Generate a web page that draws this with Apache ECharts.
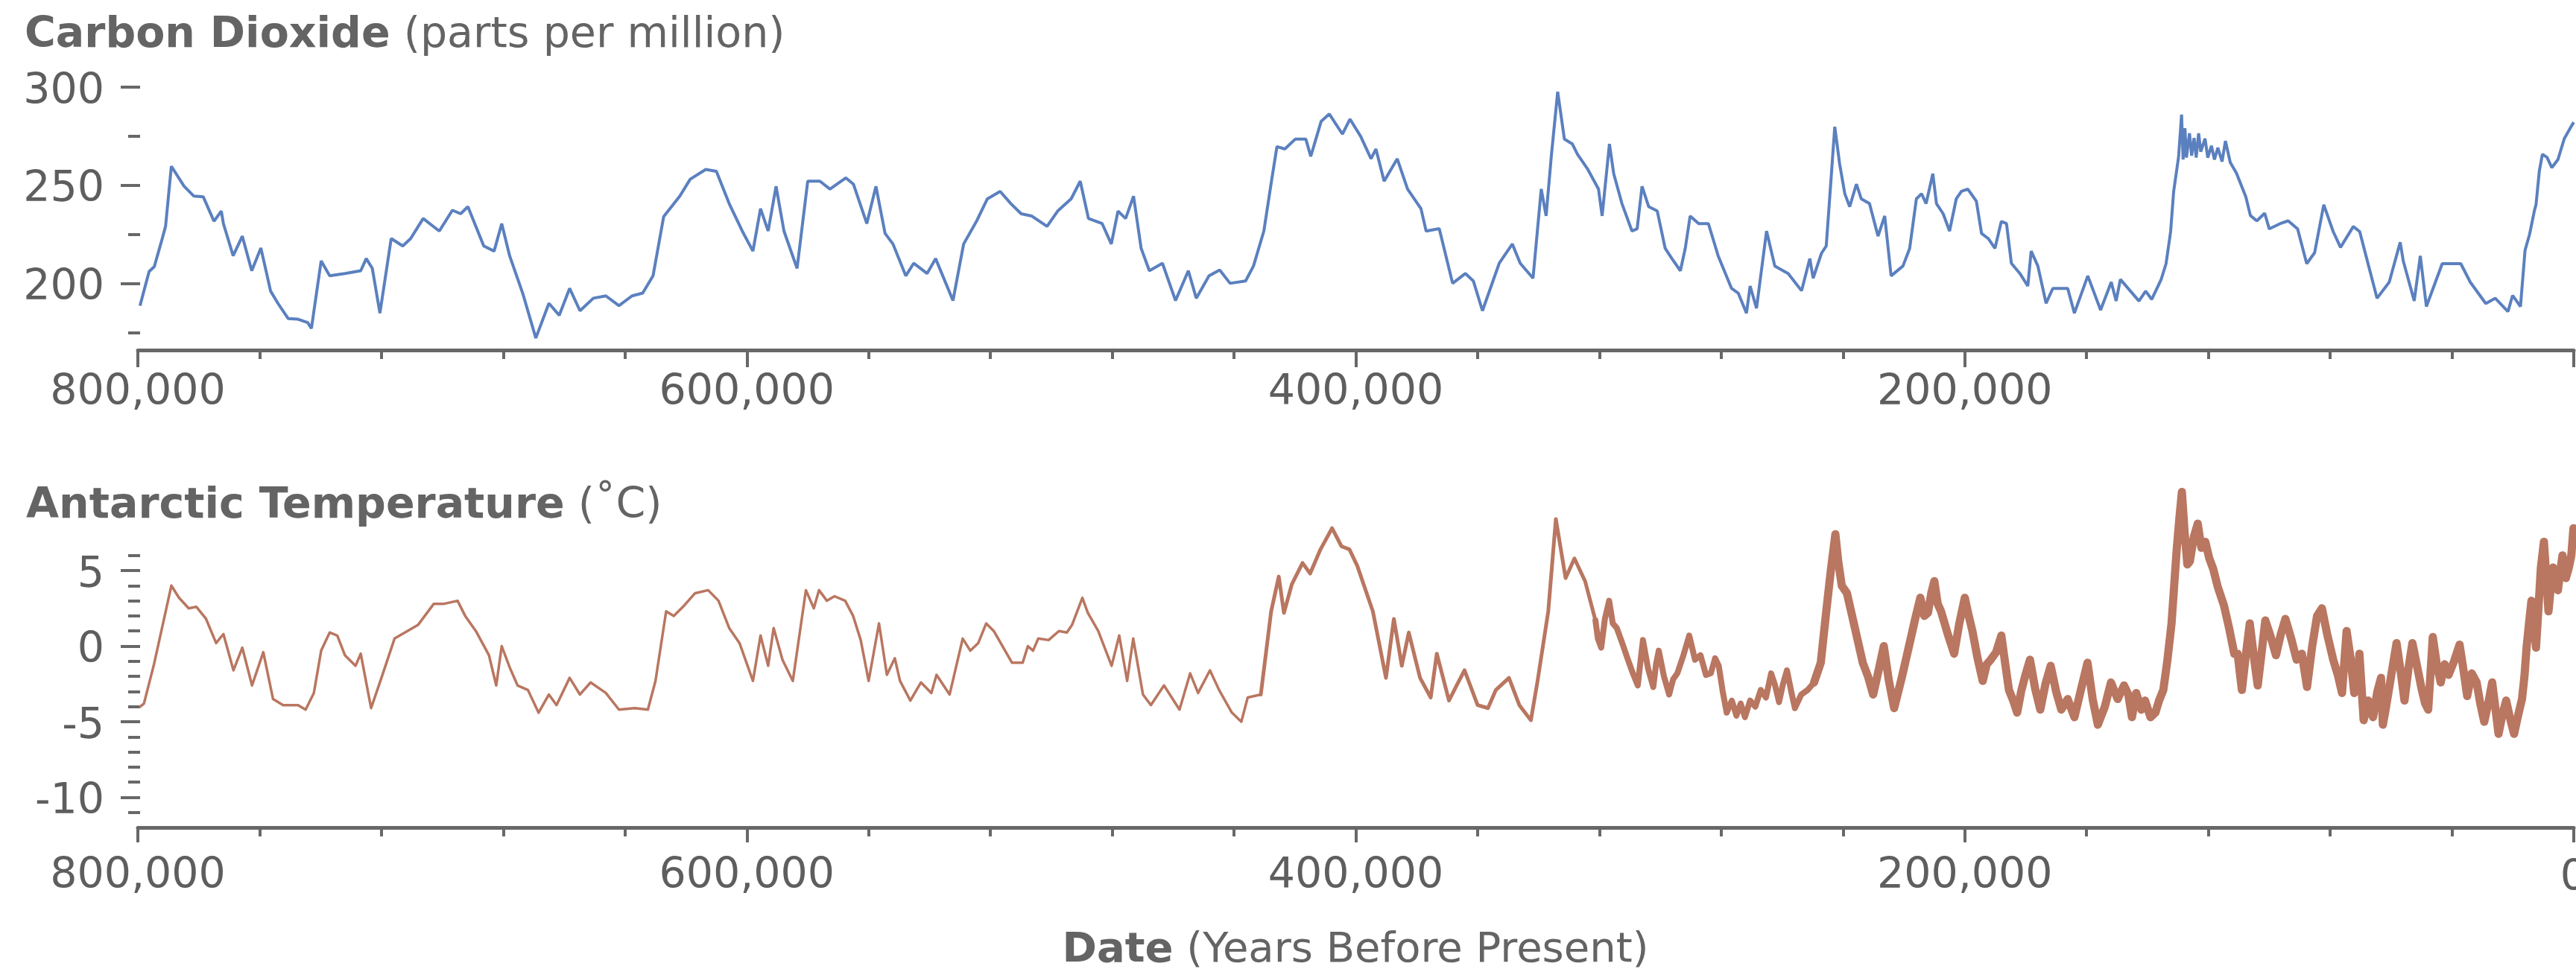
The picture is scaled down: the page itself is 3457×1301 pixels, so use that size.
<!DOCTYPE html>
<html>
<head>
<meta charset="utf-8">
<script src="https://cdn.jsdelivr.net/npm/echarts@6/dist/echarts.min.js"></script>
<style>
html,body{margin:0;padding:0;background:#fff;}
#chart{width:3457px;height:1301px;}
</style>
</head>
<body>
<div id="chart"></div>
<script>
// ---- DATA (years before present in thousands, value) ----
const co2Data = [
[799.3,188.6],[796.3,206],[794.6,208.5],[792.2,221.6],[790.9,229],[789.0,259.6],[784.8,249.4],[781.6,244.4],[778.5,244],[775.0,231.6],
[772.6,236.8],[771.9,230.4],[768.7,214],[765.7,224],[762.6,206.4],[759.6,218],[756.4,196],[754.0,189.8],[750.6,182],[747.4,181.7],
[744.2,180],[743.0,177],[739.8,211.4],[737.0,203.8],[732.0,205],[726.8,206.4],[725.0,212.6],[723.0,207.6],[720.5,184.8],[716.8,222.8],
[713.0,219],[710.4,222.8],[706.3,233],[701.0,226.6],[696.7,237.2],[694.0,235.4],[691.6,239],[686.4,219],[683.0,216.4],[680.5,230.4],
[677.9,214],[673.6,194.9],[669.3,172.1],[665.0,189.8],[661.6,183.7],[658.2,197.4],[654.8,186],[650.4,192.4],[646.3,193.6],[642.0,188.6],
[637.7,193.6],[634.2,195],[630.8,203.8],[627.3,234],[622.0,244.4],[618.6,253],[613.5,258],[610.0,257],[605.8,240.6],[601.5,226.6],
[598.0,216.4],[595.5,238],[593.0,226.6],[590.4,249.4],[587.8,226.6],[583.5,207.6],[580.0,252],[576.0,252],[572.7,248],[567.5,253.7],
[565.0,250.5],[560.6,230.4],[557.6,249.4],[554.6,225.4],[552.0,220],[547.8,203.8],[545.2,210.2],[540.8,205],[538.0,212.6],[532.3,191.2],
[528.8,220],[524.6,231.5],[521.0,243],[516.8,246.8],[513.3,240.6],[509.9,235.4],[506.5,234.3],[501.4,229],[497.9,236.8],[493.5,243],
[490.5,252],[487.8,233],[483.3,230.4],[480.3,220],[478.1,236.8],[475.6,233],[473.0,244.4],[470.5,217.8],[467.8,206.4],[463.5,210.2],
[459.2,191.2],[455.0,206.4],[452.4,192.4],[448.2,203.8],[444.7,206.8],[441.3,200],[436.2,201.2],[433.6,208.8],[430.2,226.6],[427.6,253],
[425.9,269.6],[423.3,268.4],[419.9,273.4],[416.4,273.4],[414.8,264.6],[411.4,282.4],[408.7,286.2],[404.4,276],[401.9,283.6],[398.4,274.8],
[395.0,263.4],[393.4,268.4],[390.7,252],[386.4,263.4],[383.0,248],[378.6,238],[376.9,226.6],[372.6,227.8],[368.2,200],[364.0,205],
[361.4,201.2],[358.4,186],[352.9,210.2],[348.6,220],[346.0,210.2],[341.8,202.6],[339.1,248],[337.5,234.3],[335.8,264.6],[333.7,297.5],
[331.5,273.4],[328.9,271],[327.2,265.7],[323.8,258],[320.3,248],[319.1,234.3],[316.7,271],[315.3,255.8],[312.6,240.6],[309.3,226.6],
[307.6,227.8],[306.0,249.4],[303.8,239],[301.0,236.8],[298.4,217.8],[296.2,212.6],[293.4,206.4],[291.8,217.8],[290.2,234.3],[287.4,230.4],
[284.2,230.4],[281.0,214],[276.6,197.4],[274.4,195],[271.7,184.8],[270.5,198.6],[268.4,187.3],[265.1,226.6],[262.4,208.8],[258.0,205],
[253.6,196.2],[250.9,212.6],[249.8,202.6],[247.1,215.2],[245.5,219],[243.8,255.8],[242.7,279.7],[241.1,260.8],[239.4,245.6],[237.8,239],
[235.6,250.5],[234.0,243],[231.3,240.6],[228.5,224],[226.3,234.3],[224.2,203.8],[220.3,208.8],[218.1,217.8],[215.9,243],[214.2,245.6],
[212.7,240.6],[210.5,255.8],[209.3,240.6],[207.1,235.4],[205.0,226.6],[202.8,243],[201.1,246.8],[199.0,248],[196.2,241.8],[194.5,225.4],
[192.3,222.8],[190.1,217.8],[188.0,231.5],[186.3,230.4],[184.7,210.2],[181.9,205],[179.3,198.6],[178.2,216.4],[176.0,208.8],[173.3,189.8],
[171.1,197.4],[166.2,197.4],[164.0,184.8],[159.6,203.8],[155.4,186.4],[151.9,200.6],[150.3,191],[148.9,202],[142.8,191],[140.6,196],
[138.6,191.8],[135.5,202],[133.9,210],[132.4,226.3],[131.4,246.8],[129.8,264.2],[128.8,285.9],[128.3,263],[127.7,279],[127.2,264],
[126.2,276.4],[125.5,265],[124.7,274],[124.0,264],[123.2,276.4],[122.5,267],[121.1,273.7],[120.2,264],[119.0,270],[118.0,263],
[116.9,269],[115.5,262],[114.4,272.5],[112.8,261.5],[110.8,256.2],[107.7,244],[106.2,234.5],[104.1,231.8],[101.5,235.7],[100.0,227.7],
[96.4,230.4],[93.8,231.8],[90.7,227.7],[87.7,210],[85.1,215.6],[82.1,240],[79.0,226.3],[76.6,218.3],[72.4,228.9],[70.3,226.3],
[64.6,192.4],[60.6,200.6],[57.0,220.9],[56.0,211.4],[52.4,191],[50.4,214],[48.4,188.2],[43.2,210],[37.1,210],[34.0,200.6],
[28.9,189.7],[25.8,192.4],[21.6,185.6],[20.1,193.8],[17.5,188.2],[16.0,216.8],[14.5,225],[12.9,237.2],[12.4,240],[11.3,257.3],
[10.3,265.7],[8.8,264.2],[7.2,258.9],[5.2,263],[3.1,273.7],[0.6,280.5],[0.0,282]
];

const tempData = [
[799.2,-4.0],[798,-3.8],[794.7,-1.2],[791.4,1.8],[789,4.0],[786.5,3.2],[783.3,2.5],[780.8,2.6],[777.6,1.8],[774.3,0.2],
[771.9,0.8],[768.6,-1.6],[765.7,-0.1],[762.5,-2.6],[758.8,-0.4],[755.6,-3.5],[752.3,-3.9],[747.4,-3.9],[744.9,-4.2],[742.2,-3.1],
[739.8,-0.3],[737,0.9],[734.5,0.7],[732,-0.6],[728.5,-1.3],[726.8,-0.5],[723.4,-4.1],[720,-2.1],[715.7,0.5],[712.3,0.9],
[708,1.4],[702.8,2.8],[699.4,2.8],[695,3.0],[692.5,2.0],[689,1.0],[684.7,-0.6],[682.3,-2.6],[680.5,0.0],[677.9,-1.4],
[675.3,-2.6],[671.9,-2.9],[668.4,-4.4],[665,-3.2],[662.5,-3.9],[658.2,-2.1],[654.8,-3.2],[651.3,-2.4],[646.3,-3.1],[642,-4.2],
[636.8,-4.1],[632.5,-4.2],[630,-2.3],[626.5,2.3],[624,2.0],[620.5,2.7],[617,3.5],[612.7,3.7],[609.3,3.0],[605.8,1.2],
[602.4,0.2],[598,-2.3],[595.5,0.7],[593,-1.3],[591.2,1.2],[588.3,-0.9],[584.9,-2.3],[580.6,3.7],[578,2.5],[576.3,3.7],
[573.7,3.0],[571.2,3.3],[567.7,3.0],[565.1,2.0],[562.6,0.4],[560,-2.3],[556.6,1.5],[554,-1.9],[551.4,-0.8],[549.7,-2.3],
[546.3,-3.6],[542.8,-2.4],[539.4,-3.1],[537.7,-1.9],[533.4,-3.2],[529.1,0.5],[526.6,-0.3],[524,0.2],[521.4,1.5],[518.9,1.0],
[512.9,-1.1],[509.4,-1.1],[507.7,0.0],[506,-0.3],[504.3,0.5],[500.9,0.4],[497.5,1.0],[494.9,0.9],[493.2,1.4],[489.8,3.2],
[488,2.2],[484.6,1.0],[480.2,-1.3],[477.7,0.7],[475.1,-2.3],[473.1,0.5],[469.9,-3.2],[467.3,-3.9],[463,-2.6],[457.9,-4.2],
[454.4,-1.8],[451.8,-3.1],[447.9,-1.6],[444.9,-2.9],[440.7,-4.4],[437.6,-5.0],[435.5,-3.4],[431.2,-3.2],[427.8,2.3],[425.3,4.6],
[423.6,2.2],[421,4.1],[417.5,5.5],[415,4.8],[411.6,6.4],[407.8,7.8],[404.7,6.6],[402.1,6.4],[399.5,5.3],[394.4,2.3],
[390.1,-2.1],[387.5,1.8],[384.9,-1.3],[382.6,0.9],[378.9,-2.1],[375.4,-3.4],[373.4,-0.5],[369.4,-3.6],[366.9,-2.6],[364.3,-1.6],
[360,-3.9],[356.6,-4.1],[354,-2.9],[349.7,-2.1],[346.3,-3.9],[342.5,-4.9],[340.3,-2.3],[336.8,2.3],[334.3,8.4],[331.1,4.5],
[328.2,5.8],[324.7,4.3],[321.3,1.7],[320.5,0.5],[319.4,-0.1],[318.2,1.8],[316.8,3.0],[315.6,1.5],[314.3,1.2],[312.5,0.2],
[310.8,-0.8],[309,-1.8],[307.4,-2.6],[306.5,-1.0],[305.7,0.4],[304,-1.5],[302.3,-2.7],[301.4,-1.2],[300.5,-0.3],[298.8,-2.0],
[297.1,-3.2],[295.8,-2.2],[294.4,-1.8],[292.4,-0.6],[290.5,0.7],[288.6,-0.9],[286.8,-0.6],[285,-1.9],[283.4,-1.8],[282,-0.8],
[280.8,-1.3],[279.5,-3.0],[278.2,-4.4],[276.5,-3.6],[275,-4.6],[273.6,-3.8],[272.2,-4.7],[270.5,-3.6],[268.8,-4.0],[267,-2.9],
[265.3,-3.4],[263.6,-1.8],[262.3,-2.6],[261,-3.7],[259.7,-2.5],[258.4,-1.6],[257,-3.0],[255.8,-4.1],[253.7,-3.2],[251.6,-2.9],
[249.5,-2.4],[247.3,-1.1],[245.5,2.3],[244,5.0],[242.5,7.4],[241.5,5.5],[240.4,4.0],[238.7,3.5],[237,2.0],[235.3,0.5],
[233.5,-1.1],[231.8,-2.0],[230.1,-3.2],[228.3,-1.6],[226.6,0.0],[225,-2.2],[223.2,-4.1],[220.6,-2.0],[218.1,0.2],[216.3,1.8],
[214.6,3.2],[213.3,2.0],[212.1,2.2],[211,3.5],[210,4.3],[208.9,2.8],[207.8,2.3],[205.6,0.8],[203.5,-0.5],[201.8,1.5],
[200,3.2],[198.7,2.0],[197.5,1.0],[195.8,-0.8],[194.1,-2.3],[192.8,-1.2],[191.5,-0.9],[189.7,-0.4],[188,0.7],[186.7,-1.2],
[185.5,-2.9],[184.1,-3.6],[182.8,-4.4],[181.5,-3.0],[180.2,-2.0],[178.6,-0.9],[176.9,-2.8],[175.2,-4.2],[173.5,-2.5],[171.8,-1.3],
[170,-3.0],[168.3,-4.2],[166.2,-3.5],[164,-4.7],[162,-3.0],[159.7,-1.1],[158,-3.5],[156.3,-5.2],[154,-4.0],[152,-2.4],
[149.8,-3.5],[147.7,-2.6],[146.3,-3.2],[145.1,-4.7],[143.7,-3.1],[142,-4.2],[140.8,-3.6],[139,-4.7],[137.4,-4.4],[136.2,-3.6],
[134.8,-2.9],[133.5,-1.0],[132.1,1.5],[131.3,3.8],[130.4,6.4],[129.5,8.5],[128.7,10.2],[127.8,7.5],[126.9,5.4],[126.1,5.6],
[124.8,7.2],[123.5,8.1],[122.3,6.5],[121,6.9],[119.7,5.8],[118.4,5.1],[116.9,3.9],[114.9,2.7],[113.2,1.2],[111.5,-0.5],
[110.4,-0.5],[109,-2.9],[107.7,-0.6],[106.4,1.5],[105,-0.8],[103.8,-2.6],[102.5,-0.4],[101.3,1.7],[99.5,0.6],[97.8,-0.6],
[96.2,0.8],[94.7,1.8],[92.8,0.5],[91,-0.9],[89.3,-0.5],[87.6,-2.7],[85.9,0.0],[84.3,2.0],[82.7,2.5],[81,0.8],
[79,-0.9],[77.5,-1.9],[76.1,-3.1],[74.6,1.0],[73.3,-0.8],[72.1,-3.1],[71.2,-2.4],[70.4,-0.5],[69,-4.9],[67.5,-3.6],
[66.9,-4.2],[65.9,-4.7],[64.5,-3.0],[63.3,-2.1],[62.7,-5.2],[61.8,-4.2],[60,-2.0],[58.2,0.2],[56.9,-1.6],[55.6,-3.6],
[54.3,-1.5],[53,0.2],[51.4,-1.4],[49.9,-2.9],[48.8,-3.8],[47.8,-4.2],[46.3,0.6],[45,-1.2],[43.7,-2.4],[42.4,-1.2],
[41.1,-1.9],[39.3,-1.0],[37.5,0.1],[36.2,-1.6],[35,-3.3],[33.5,-1.8],[31.9,-2.4],[30.7,-3.8],[29.4,-5.0],[28.1,-3.8],
[26.8,-2.4],[25.8,-4.0],[24.7,-5.8],[23.4,-4.5],[22.2,-3.6],[20.9,-4.8],[19.6,-5.8],[18.3,-4.6],[17,-3.5],[16.2,-2.0],
[15.5,-0.1],[14.7,1.5],[13.9,3.0],[13.1,1.5],[12.4,-0.1],[11.6,2.5],[10.8,5.2],[9.8,6.9],[9,4.5],[8.3,2.3],
[7.5,4.0],[6.8,5.2],[6,4.2],[5.2,3.7],[4.4,5.0],[3.7,6.0],[2.6,4.5],[1.6,5.2],[0.8,6.0],[0.1,7.8]
];

const xTickValues = [800000, 600000, 400000, 200000, 0];
const xTickLabels = ['800,000', '600,000', '400,000', '200,000', '0'];
const co2MajorTicks = [200, 250, 300];
const co2MinorTicks = [175, 225, 275];
const tempMajorTicks = [-10, -5, 0, 5];
const tempMinorTicks = [-11, -9, -8, -7, -6, -4, -3, -2, -1, 1, 2, 3, 4, 6];

// ---- STYLE ----
const FONT = 'DejaVu Sans';
const TEXT = '#5e5e5e';
const AXIS = '#686868';
const CO2_COLOR = '#5b80bf';
const TEMP_COLOR = '#b97660';

function xLabel(v) {
  const i = xTickValues.indexOf(v);
  if (i < 0 || v === 0) return '';
  return xTickLabels[i];
}

function makeX(gridIndex, margin, tickLen) {
  return {
    type: 'value', gridIndex: gridIndex, min: 0, max: 800000, interval: 200000, inverse: true,
    position: 'bottom',
    axisLine: { show: true, onZero: false, lineStyle: { color: AXIS, width: 5 } },
    axisTick: { show: true, length: tickLen, lineStyle: { color: AXIS, width: 4 } },
    minorTick: { show: true, splitNumber: 5, length: 12, lineStyle: { color: AXIS, width: 4 } },
    splitLine: { show: false }, minorSplitLine: { show: false },
    axisLabel: { show: true, margin: margin, fontSize: 57, fontFamily: FONT, color: TEXT,
      showMinLabel: true, showMaxLabel: true, align: 'center', formatter: xLabel }
  };
}

function makeY(gridIndex, min, max, ticks, len, labels) {
  return {
    type: 'value', gridIndex: gridIndex, min: min, max: max, position: 'left', offset: -3,
    axisLine: { show: false, onZero: false },
    splitLine: { show: false },
    axisTick: { show: true, length: len, customValues: ticks, lineStyle: { color: AXIS, width: 4 } },
    axisLabel: { show: labels, customValues: ticks, margin: 48, color: TEXT,
      formatter: function (v) { return '{v|' + v + '}'; },
      rich: { v: { fontSize: 57, fontFamily: FONT, color: TEXT, lineHeight: 57, padding: [14, 0, 0, 0] } } }
  };
}

function pts(data, lo, hi) {
  return data.filter(d => d[0] >= lo && d[0] <= hi).map(d => [d[0] * 1000, d[1]]);
}

function tempSeries(lo, hi, width) {
  return { type: 'line', xAxisIndex: 1, yAxisIndex: 2, data: pts(tempData, lo, hi), showSymbol: false, symbol: 'none',
    lineStyle: { color: TEMP_COLOR, width: width, join: 'round', cap: 'round' }, clip: false };
}

const chart = echarts.init(document.getElementById('chart'), null, { renderer: 'canvas' });

const titleB = { fontFamily: FONT, fontSize: 57, fontWeight: 'bold', fill: '#646464', lineHeight: 57 };
const titleR = { fontFamily: FONT, fontSize: 57, fontWeight: 'normal', fill: '#646464', lineHeight: 57 };
const nameB = { fontFamily: FONT, fontSize: 56, fontWeight: 'bold', fill: '#646464', lineHeight: 56 };
const nameR = { fontFamily: FONT, fontSize: 56, fontWeight: 'normal', fill: '#646464', lineHeight: 56 };

chart.setOption({
  animation: false,
  backgroundColor: '#ffffff',
  grid: [
    { left: 185, right: 3, top: 116.7, height: 353.3 },
    { left: 185, right: 3, top: 644.2, height: 466.9 }
  ],
  xAxis: [ makeX(0, 30, 23), makeX(1, 38, 20) ],
  yAxis: [
    makeY(0, 166, 300, co2MajorTicks, 26, true),
    makeY(0, 166, 300, co2MinorTicks, 16, false),
    makeY(1, -12, 11, tempMajorTicks, 26, true),
    makeY(1, -12, 11, tempMinorTicks, 16, false)
  ],
  graphic: [
    { type: 'text', x: 33, y: 20, style: { text: '{b|Carbon Dioxide}{r| (parts per million)}', rich: { b: titleB, r: titleR }, verticalAlign: 'top' } },
    { type: 'text', x: 35, y: 652, style: { text: '{b|Antarctic Temperature}{r| (˚C)}', rich: { b: titleB, r: titleR }, verticalAlign: 'top' } },
    { type: 'text', x: 1819, y: 1248, style: { text: '{b|Date}{r| (Years Before Present)}', rich: { b: nameB, r: nameR }, align: 'center', verticalAlign: 'top' } },
    // tick label "0" at the right end of the lower axis, cut by the page edge as in the reference
    { type: 'text', x: 3454, y: 1112 + 40, style: { text: xTickLabels[4], font: '57px "DejaVu Sans"', fill: TEXT, align: 'center', verticalAlign: 'top' } }
  ],
  series: [
    { type: 'line', xAxisIndex: 0, yAxisIndex: 0, data: pts(co2Data, 0, 800), showSymbol: false, symbol: 'none',
      lineStyle: { color: CO2_COLOR, width: 4 }, clip: false },
    tempSeries(430, 800, 3.5),
    tempSeries(320, 431.2, 5),
    tempSeries(249.5, 321.3, 8),
    tempSeries(0, 249.5, 11)
  ]
});
</script>
</body>
</html>
